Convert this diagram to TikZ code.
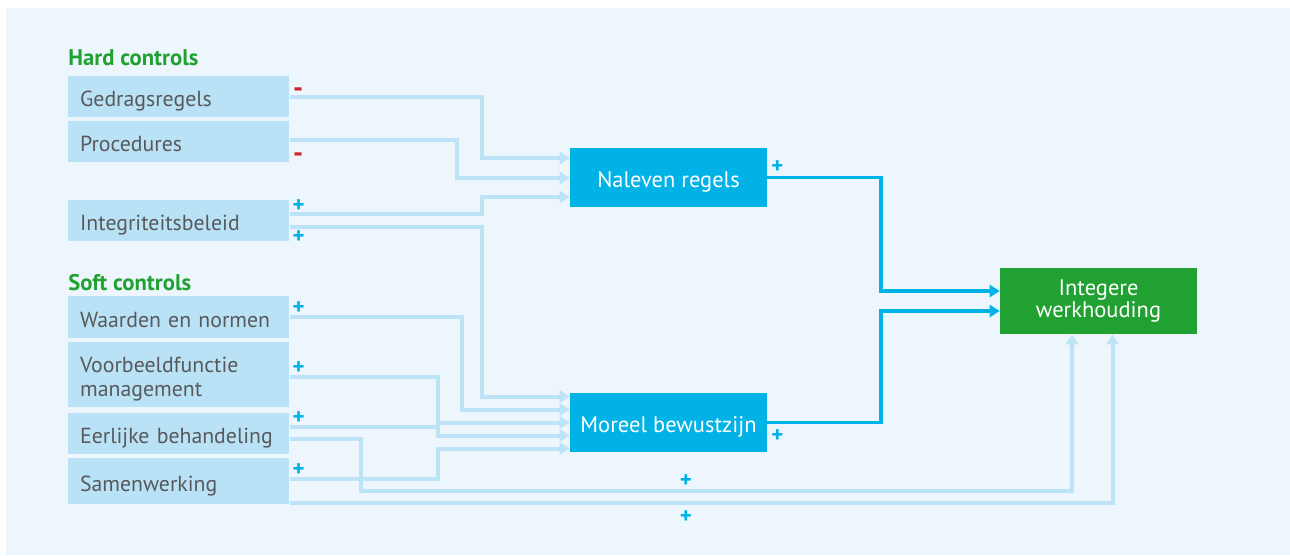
\documentclass[tikz,border=0pt]{standalone}
\usepackage{fontspec}
\setmainfont{PT Sans}
\usetikzlibrary{arrows.meta,positioning}

\definecolor{panelbg}{HTML}{EEF6FD}
\definecolor{ctrlfill}{HTML}{BAE2F6}
\definecolor{ctrlline}{HTML}{BCE3F6}
\definecolor{midblue}{HTML}{00B2E6}
\definecolor{okgreen}{HTML}{21A131}
\definecolor{txtgray}{HTML}{58595B}
\definecolor{minred}{HTML}{D0262B}

\begin{document}
\begin{tikzpicture}[x=0.02cm,y=-0.02cm,
	ctrltwo/.style={fill=ctrlfill,anchor=north west,minimum width=4.42cm,text width=3.95cm,inner xsep=0.235cm,align=left,text=txtgray,font=\fontsize{12.4}{14}\selectfont},
	ctrl/.style={ctrltwo,text height=11pt,text depth=0pt},
	head/.style={anchor=west,inner sep=0,text=okgreen,font=\bfseries\fontsize{12.9}{14}\selectfont},
	mid/.style={fill=midblue,text=white,minimum width=3.94cm,minimum height=1.18cm,text height=11pt,text depth=0pt,font=\fontsize{12.8}{14}\selectfont},
	goal/.style={fill=okgreen,text=white,minimum width=3.94cm,minimum height=1.32cm,align=center,font=\fontsize{12.8}{12.5}\selectfont},
	plus/.style={inner sep=0,text=midblue,font=\bfseries\fontsize{13}{13}\selectfont},
	minus/.style={inner sep=0,text=minred,font=\bfseries\fontsize{16}{16}\selectfont},
	lite/.style={draw=ctrlline,line width=0.08cm,-{Triangle[length=0.2cm,width=0.24cm]}},
	dark/.style={draw=midblue,line width=0.07cm,-{Triangle[length=0.2cm,width=0.24cm]}}]
	\useasboundingbox (0,0) rectangle (1290,555);
	\fill[white] (0,0) rectangle (1290,555);
	\fill[panelbg] (6,8) rectangle (1290,555);

	% controls
	\node[head] (hard) at (68,58) {Hard controls};
	\node[ctrl,minimum height=0.82cm] (gedrag) at (68,76) {Gedragsregels};
	\node[ctrl,minimum height=0.82cm] (proc) at (68,121) {Procedures};
	\node[ctrl,minimum height=0.82cm] (integ) at (68,200) {Integriteitsbeleid};
	\node[head] (soft) at (68,283) {Soft controls};
	\node[ctrl,minimum height=0.84cm] (waarden) at (68,296) {Waarden en normen};
	\node[ctrltwo,minimum height=1.3cm,text height=11pt,text depth=14pt] (voorbeeld) at (68,342) {Voorbeeldfunctie\\management};
	\node[ctrl,minimum height=0.82cm] (eerlijk) at (68,413) {Eerlijke behandeling};
	\node[ctrl,minimum height=0.92cm] (samen) at (68,458) {Samenwerking};

	\node[mid] (naleven) at (668.5,177.5) {Naleven regels};
	\node[mid] (moreel) at (668.5,422.5) {Moreel bewustzijn};
	\node[goal] (integer) at (1098.5,301) {Integere\\werkhouding};

	% lanes
	\coordinate (laneA) at (482,0);
	\coordinate (laneB) at (457,0);
	\coordinate (laneC) at (462,0);
	\coordinate (laneD) at (438,0);
	\coordinate (laneE) at (361,0);
	\coordinate (laneF) at (881,0);
	\coordinate (rowA) at (0,491);

	\draw[lite] (gedrag.east) -| ([yshift=0.39cm]naleven.west -| laneA) -- ([yshift=0.39cm]naleven.west);
	\draw[lite] ([yshift=0.03cm]proc.east) -| ([yshift=-0.01cm]naleven.west -| laneB) -- ([yshift=-0.01cm]naleven.west);
	\draw[lite] ([yshift=0.13cm]integ.east) -| ([yshift=-0.39cm]naleven.west -| laneA) -- ([yshift=-0.39cm]naleven.west);
	\draw[lite] ([yshift=-0.13cm]integ.east) -| ([yshift=0.52cm]moreel.west -| laneA) -- ([yshift=0.52cm]moreel.west);
	\draw[lite] (waarden.east) -| ([yshift=0.26cm]moreel.west -| laneC) -- ([yshift=0.26cm]moreel.west);
	\draw[lite] ([yshift=-0.05cm]voorbeeld.east) -| (moreel.west -| laneD) -- (moreel.west);
	\draw[lite] ([yshift=0.13cm]eerlijk.east) -| ([yshift=-0.26cm]moreel.west -| laneD) -- ([yshift=-0.26cm]moreel.west);
	\draw[lite] ([yshift=0.04cm]samen.east) -| ([yshift=-0.52cm]moreel.west -| laneD) -- ([yshift=-0.52cm]moreel.west);
	\draw[lite] ([yshift=-0.11cm]eerlijk.east) -| (rowA -| laneE) -| ([xshift=-0.53cm]integer.south);
	\draw[lite] ([yshift=0.04cm]samen.south east) -| ([xshift=0.28cm]integer.south);

	\draw[dark] (naleven.east) -| ([yshift=0.2cm]integer.west -| laneF) -- ([yshift=0.2cm]integer.west);
	\draw[dark] (moreel.east) -| ([yshift=-0.2cm]integer.west -| laneF) -- ([yshift=-0.2cm]integer.west);

	% signs
	\node[minus] (sGedrag) at ([xshift=0.17cm,yshift=0.09cm]gedrag.east) {-};
	\node[minus] (sProc) at ([xshift=0.17cm,yshift=-0.31cm]proc.east) {-};
	\node[plus] (sIntegA) at ([xshift=0.18cm,yshift=0.29cm]integ.east) {+};
	\node[plus] (sIntegB) at ([xshift=0.18cm,yshift=-0.33cm]integ.east) {+};
	\node[plus] (sWaarden) at ([xshift=0.18cm,yshift=0.18cm]waarden.east) {+};
	\node[plus] (sVoorbeeld) at ([xshift=0.18cm,yshift=0.13cm]voorbeeld.east) {+};
	\node[plus] (sEerlijk) at ([xshift=0.18cm,yshift=0.31cm]eerlijk.east) {+};
	\node[plus] (sSamen) at ([xshift=0.18cm,yshift=0.22cm]samen.east) {+};
	\node[plus] (sNaleven) at ([xshift=0.2cm,yshift=0.21cm]naleven.east) {+};
	\node[plus] (sMoreel) at ([xshift=0.2cm,yshift=-0.27cm]moreel.east) {+};
	\node[plus] (sRowA) at (686,481) {+};
	\node[plus] (sRowB) at (686,517) {+};
\end{tikzpicture}
\end{document}
